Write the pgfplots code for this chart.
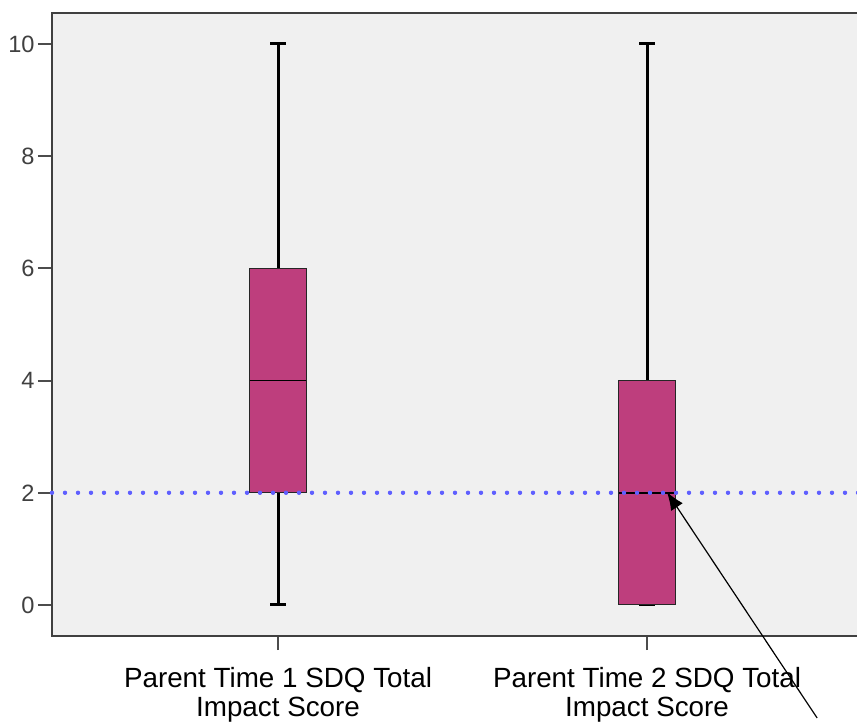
\documentclass[border=0pt]{standalone}
\usepackage{fontspec}
\setmainfont{Liberation Sans}
\usepackage{pgfplots}
\pgfplotsset{compat=1.18}
\usepgfplotslibrary{statistics}
\usetikzlibrary{arrows.meta}
\definecolor{boxc}{RGB}{190,62,125}
\definecolor{dotc}{RGB}{95,95,255}
\begin{document}
\begin{tikzpicture}
\path[use as bounding box] (-26pt,-43pt) rectangle (402.5pt,318pt);
\begin{axis}[at={(0,0)}, anchor=south west, scale only axis,
  width=405pt, height=311.5pt,
  xmin=-0.6125, xmax=1.5826, ymin=-0.5526, ymax=10.5526,
  clip=false,
  axis background/.style={fill=black!6},
  axis line style={black!75, line width=1pt},
  tick style={black!70, line width=1pt},
  major tick length=7pt,
  tick align=outside, tick pos=left,
  ytick={0,2,4,6,8,10},
  xtick={0,1},
  xticklabels={{Parent Time 1 SDQ Total\\Impact Score},{Parent Time 2 SDQ Total\\Impact Score}},
  xticklabel style={align=center, font=\fontsize{13.9}{14.4}\selectfont, text=black, yshift=-5pt},
  yticklabel style={font=\fontsize{11.8}{12}\selectfont, text=black!75, xshift=1.8pt},
  /pgf/number format/assume math mode=true,
  boxplot/draw direction=y,
  boxplot/every box/.style={draw=black!85, line width=0.5pt, fill=boxc},
  boxplot/every whisker/.style={black, line width=1.5pt},
  boxplot/every median/.style={black, line width=0.8pt},
]
\addplot+[mark=none, boxplot prepared={draw position=0, lower whisker=0, lower quartile=2, median=4, upper quartile=6, upper whisker=10, box extend=0.152, whisker extend=0.042}] coordinates {};
\addplot+[mark=none, boxplot prepared={draw position=1, lower whisker=0, lower quartile=0, median=2, upper quartile=4, upper whisker=10, box extend=0.152, whisker extend=0.042}] coordinates {};
\addplot[dotc, line width=2.2pt, line cap=round, dash pattern=on 0pt off 6.5pt] coordinates {(-0.6125,2) (1.5826,2)};
\draw[black, line width=0.6pt, -{Latex[length=9pt,width=7pt]}] (axis cs:1.461,-2.014) -- (axis cs:1.054,2.014);
\end{axis}
\end{tikzpicture}
\end{document}
